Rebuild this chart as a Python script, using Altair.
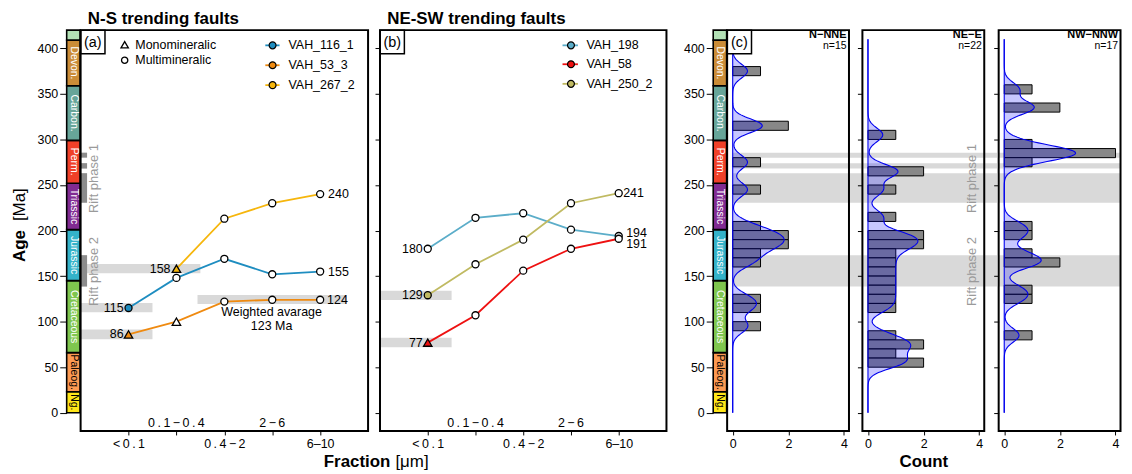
import altair as alt
import pandas as pd

# ===================== values =====================
fractions = ["<0.1", "0.1−0.4", "0.4−2", "2−6", "6–10"]

# (a) N-S trending faults
a_series = ["VAH_116_1", "VAH_53_3", "VAH_267_2"]
a_vah_116_1 = [115, 148, 169, 152, 155]
a_vah_53_3 = [86, 100, 122, 124, 124]
a_vah_267_2 = [None, 158, 213, 230, 240]
a_min_116_1 = ["multi", "multi", "multi", "multi", "multi"]
a_min_53_3 = ["mono", "mono", "multi", "multi", "multi"]
a_min_267_2 = [None, "mono", "multi", "multi", "multi"]
a_solid = [0, 0, 1]  # fraction index of the filled marker of each sample

a_lab_text = ["115", "86", "158", "155", "124", "240"]
a_lab_idx = [0, 0, 1, 4, 4, 4]
a_lab_age = [115, 86, 158, 155, 124, 240]

a_err_lo = [110.2, 80.7, 153.2, 119.3]
a_err_hi = [120.4, 91.3, 163.3, 129.2]
a_err_from = [-1, -1, -1, 1.44]
a_err_to = [0.5, 0.5, 1.5, 4.56]

# (b) NE-SW trending faults
b_series = ["VAH_198", "VAH_58", "VAH_250_2"]
b_vah_198 = [180, 214, 219, 201, 194]
b_vah_58 = [77, 107, 156, 180, 191]
b_vah_250_2 = [129, 163, 190, 230, 241]
b_min_198 = ["multi", "multi", "multi", "multi", "multi"]
b_min_58 = ["mono", "multi", "multi", "multi", "multi"]
b_min_250_2 = ["multi", "multi", "multi", "multi", "multi"]
b_solid = [None, 0, 0]

b_lab_text = ["180", "129", "77", "241", "194", "191"]
b_lab_idx = [0, 0, 0, 4, 4, 4]
b_lab_age = [180, 129, 77, 241, 194, 191]

b_err_lo = [123.7, 72.0]
b_err_hi = [133.8, 82.3]
b_err_from = [-1, -1]
b_err_to = [0.5, 0.5]

# rift phases
rift_lo = [280, 268, 230.5, 138.5]
rift_hi = [285.5, 274, 263, 173]
rift_labels = ["Rift phase 1", "Rift phase 2"]
rift_label_age = [257, 155]

# geological time scale
period_labels = ["Ng.", "Paleog.", "Cretaceous", "Jurassic", "Triassic", "Perm.", "Carbon.", "Devon.", ""]
period_start = [0, 23, 66, 145, 201, 252, 299, 359, 409]
period_end = [23, 66, 145, 201, 252, 299, 359, 409, 420]

# (c) histograms (10 Ma bins: lower edge, count)
bin_width = 10
c_names = ["N−NNE", "NE−E", "NW−NNW"]
c_n = ["n=15", "n=22", "n=17"]
c1_bin = [370, 310, 270, 240, 200, 190, 180, 170, 160, 120, 110, 90]
c1_cnt = [1, 2, 1, 1, 1, 2, 2, 1, 1, 1, 1, 1]
c2_bin = [300, 260, 240, 210, 190, 180, 170, 160, 150, 140, 130, 120, 110, 80, 70, 60, 50]
c2_cnt = [1, 2, 1, 1, 2, 2, 1, 1, 1, 1, 1, 1, 1, 1, 2, 1, 2]
c3_bin = [350, 330, 290, 280, 270, 200, 190, 170, 160, 130, 120, 80]
c3_cnt = [1, 2, 1, 4, 1, 1, 1, 1, 2, 1, 1, 1]

# ===================== styles =====================
FONT = "Liberation Sans"
H = 403
A_COLORS = ["#1E8DC0", "#EF8A10", "#F6B60C"]
B_COLORS = ["#5BADC9", "#EE1111", "#C0BA62"]
PERIOD_FILL = ["#FFE619", "#FD9A52", "#7FC64E", "#34B2C9", "#812B92", "#F04028", "#67A599", "#CB8C37", "#B3E1B6"]
PERIOD_TEXT = ["black", "black", "white", "white", "white", "white", "white", "white", "white"]
BAND = "#d9d9d9"
RIFT_DARK = "#8c8c8c"
RIFT_TEXT = "#9a9a9a"
KDE_BLUE = "#0000ee"

ys = alt.Scale(domain=[-20, 420], nice=False, zero=False)
xs_frac = alt.Scale(domain=[-1, 5], nice=False, zero=False)
xs_cnt = alt.Scale(domain=[-0.2, 4.18], nice=False, zero=False)
shape_scale = alt.Scale(domain=["mono", "multi"], range=["triangle-up", "circle"])
series_scale = alt.Scale(domain=a_series + b_series, range=A_COLORS + B_COLORS)
one = pd.DataFrame({"k": [0]})


def spaced(s):
    return s if "–" in s else "\u2009".join(s)


frac_disp = [spaced(f) for f in fractions]
label_expr = " : ".join(f"datum.value == {i} ? '{frac_disp[i]}'" for i in (0, 2, 4)) + " : ''"
x_frac_axis = alt.Axis(values=[0, 1, 2, 3, 4], labelExpr=label_expr, tickSize=4, domain=False,
                       grid=False, title=None, labelPadding=3, labelFontSize=12.5,
                       labelOverlap=False, labelFlush=False)
y_tick_axis = alt.Axis(values=list(range(0, 401, 50)), labels=False, tickSize=5, domain=False,
                       grid=False, title=None)


def vtext(txt, x, y, **kw):
    return alt.Chart(one).mark_text(**kw).encode(x=alt.value(x), y=alt.value(y), text=alt.value(txt))


def frame(w):
    return alt.Chart(one).mark_rect(fill="transparent", stroke="black", strokeWidth=2).encode(
        x=alt.value(0), x2=alt.value(w), y=alt.value(0), y2=alt.value(H))


def tag(label):
    box = alt.Chart(one).mark_rect(fill="white", stroke="black", strokeWidth=1.5).encode(
        x=alt.value(0), x2=alt.value(24.5), y=alt.value(0), y2=alt.value(23.7))
    return [box, vtext(label, 12.3, 12.5, fontSize=14.5, align="center", baseline="middle")]


def panel_title(text):
    return vtext(text, 7.3, -6.3, fontSize=17, fontWeight="bold", align="left", baseline="alphabetic")


def series_frame(names, ages, minerals, solid):
    rows = []
    for name, ag, mn, si in zip(names, ages, minerals, solid):
        for i, (a, m) in enumerate(zip(ag, mn)):
            if a is None:
                continue
            rows.append(dict(series=name, idx=i, age=a, mineral=m, solid=(i == si)))
    return pd.DataFrame(rows)


def frac_panel(df, names, colors, err, labs, lab_style, legend_pos, title, yaxis, pre, post, tag_label, width):
    def X(f):
        return alt.X(f, type="quantitative", scale=xs_frac, axis=x_frac_axis)

    def Y(f):
        return alt.Y(f, type="quantitative", scale=ys, axis=yaxis)

    layers = []
    err_df = pd.DataFrame({"lo": err[0], "hi": err[1], "x0": err[2], "x1": err[3]})
    layers.append(alt.Chart(err_df).mark_rect(fill=BAND).encode(x=X("x0"), x2="x1", y=Y("lo"), y2="hi"))
    layers += pre
    layers.append(alt.Chart(df).mark_line(strokeWidth=1.8).encode(
        x=X("idx"), y=Y("age"), stroke=alt.Stroke("series:N", scale=series_scale, legend=None),
        detail="series:N"))
    sz = "datum.mineral == 'mono' ? 72 : 50"
    layers.append(alt.Chart(df).transform_filter("!datum.solid").transform_calculate(sz=sz).mark_point(
        filled=True, fill="white", stroke="black", strokeWidth=1.3, opacity=1).encode(
        x=X("idx"), y=Y("age"), shape=alt.Shape("mineral:N", scale=shape_scale, legend=None),
        size=alt.Size("sz:Q", scale=None)))
    layers.append(alt.Chart(df).transform_filter("datum.solid").transform_calculate(sz=sz).mark_point(
        filled=True, stroke="black", strokeWidth=1.3, opacity=1).encode(
        x=X("idx"), y=Y("age"), shape=alt.Shape("mineral:N", scale=shape_scale, legend=None),
        size=alt.Size("sz:Q", scale=None), fill=alt.Fill("series:N", scale=series_scale, legend=None)))
    # value labels
    for t, i, a in zip(*labs):
        align, dx, dy = lab_style.get(t, ("left", 7, 0))
        ldf = pd.DataFrame({"idx": [i], "age": [a], "t": [t]})
        layers.append(alt.Chart(ldf).mark_text(align=align, dx=dx, dy=dy, fontSize=12.5, baseline="middle").encode(
            x=X("idx"), y=Y("age"), text="t:N"))
    # inner fraction labels (0.1-0.4 and 2-6)
    inner = pd.DataFrame({"idx": [1, 3], "t": [frac_disp[1], frac_disp[3]], "age": [-10.9, -10.9]})
    layers.append(alt.Chart(inner).mark_text(fontSize=12.5, baseline="middle").encode(
        x=X("idx"), y=Y("age"), text="t:N"))
    # sample legend
    lx_line0, lx_line1, lx_pt, lx_txt, l_ys = legend_pos
    for name, col, ly in zip(names, colors, l_ys):
        layers.append(alt.Chart(one).mark_rule(color=col, strokeWidth=1.8).encode(
            x=alt.value(lx_line0), x2=alt.value(lx_line1), y=alt.value(ly)))
        layers.append(alt.Chart(one).mark_point(filled=True, fill=col, stroke="black", strokeWidth=1.2,
                                                size=48, shape="circle", opacity=1).encode(
            x=alt.value(lx_pt), y=alt.value(ly)))
        layers.append(vtext(name, lx_txt, ly, fontSize=12.5, align="left", baseline="middle"))
    layers += post
    layers += tag(tag_label)
    layers.append(frame(width))
    layers.append(panel_title(title))
    return alt.layer(*layers).properties(width=width, height=H)


# ---------- rift decorations of panel (a) ----------
rift_df = pd.DataFrame({"lo": rift_lo, "hi": rift_hi, "x0": [-1] * len(rift_lo), "x1": [-0.865] * len(rift_lo)})
rift_a = alt.Chart(rift_df).mark_rect(fill=RIFT_DARK).encode(
    x=alt.X("x0:Q", scale=xs_frac, axis=x_frac_axis), x2="x1",
    y=alt.Y("lo:Q", scale=ys, axis=None), y2="hi")
rift_lab_df = pd.DataFrame({"t": rift_labels, "age": rift_label_age, "x": [-0.72, -0.72]})
rift_lab_a = alt.Chart(rift_lab_df).mark_text(angle=270, fontSize=13, color=RIFT_TEXT, baseline="middle").encode(
    x=alt.X("x:Q", scale=xs_frac, axis=x_frac_axis), y=alt.Y("age:Q", scale=ys, axis=None), text="t:N")

mineral_legend = [
    alt.Chart(one).mark_point(shape="triangle-up", filled=True, fill="white", stroke="black",
                              strokeWidth=1.3, size=55, opacity=1).encode(x=alt.value(44.3), y=alt.value(14.7)),
    vtext("Monomineralic", 55, 14.7, fontSize=12.5, align="left", baseline="middle"),
    alt.Chart(one).mark_point(shape="circle", filled=True, fill="white", stroke="black",
                              strokeWidth=1.3, size=40, opacity=1).encode(x=alt.value(44.3), y=alt.value(30.3)),
    vtext("Multimineralic", 55, 30.3, fontSize=12.5, align="left", baseline="middle"),
    vtext("Weighted avarage", 192, 283.7, fontSize=12.5, align="center", baseline="middle"),
    vtext("123 Ma", 192, 297, fontSize=12.5, align="center", baseline="middle"),
    vtext("Fraction", 311.5, 434.5, fontSize=17, fontWeight="bold", align="right", baseline="middle"),
    vtext("[μm]", 316.5, 434.5, fontSize=17, align="left", baseline="middle"),
]

df_a = series_frame(a_series, [a_vah_116_1, a_vah_53_3, a_vah_267_2],
                    [a_min_116_1, a_min_53_3, a_min_267_2], a_solid)
a_style = {"115": ("right", -5, 0), "86": ("right", -5, 0), "158": ("right", -6, 0),
           "155": ("left", 8, 0), "124": ("left", 7, 0), "240": ("left", 8, 0)}
panel_a = frac_panel(df_a, a_series, A_COLORS, (a_err_lo, a_err_hi, a_err_from, a_err_to),
                     (a_lab_text, a_lab_idx, a_lab_age), a_style,
                     (185.7, 200, 193, 209, [15.3, 35.3, 55.3]),
                     "N-S trending faults", None, [rift_a, rift_lab_a], mineral_legend, "(a)", 289)

df_b = series_frame(b_series, [b_vah_198, b_vah_58, b_vah_250_2],
                    [b_min_198, b_min_58, b_min_250_2], b_solid)
b_style = {"180": ("right", -5, 0), "129": ("right", -5, 0), "77": ("right", -5, 0),
           "241": ("left", 4.5, 0), "194": ("left", 7.5, -3.3), "191": ("left", 7.5, 5.8)}
panel_b = frac_panel(df_b, b_series, B_COLORS, (b_err_lo, b_err_hi, b_err_from, b_err_to),
                     (b_lab_text, b_lab_idx, b_lab_age), b_style,
                     (183.5, 199, 192, 207.5, [15.3, 34.3, 54]),
                     "NE-SW trending faults", y_tick_axis, [], [], "(b)", 288)


# ---------- time-scale columns ----------
def ts_chart(with_title):
    df = pd.DataFrame({"s": period_start, "e": period_end, "lab": period_labels,
                       "fc": PERIOD_FILL, "tc": PERIOD_TEXT})
    df["x0"] = 0
    df["x1"] = 1
    yax = alt.Axis(values=list(range(0, 401, 50)), tickSize=7, labelPadding=2, domain=False, grid=False,
                   title=None, labelFontSize=12.5)
    X0 = alt.X("x0:Q", scale=alt.Scale(domain=[0, 1], nice=False, zero=False), axis=None)
    rects = alt.Chart(df).mark_rect(stroke="black", strokeWidth=1.6).encode(
        x=X0, x2="x1", y=alt.Y("s:Q", scale=ys, axis=yax), y2="e",
        fill=alt.Fill("fc:N", scale=None))
    txt = alt.Chart(df).transform_calculate(mid="(datum.s + datum.e) / 2").mark_text(
        angle=90, fontSize=10.5, align="center", baseline="middle").encode(
        x=alt.value(6.9), y=alt.Y("mid:Q", scale=ys, axis=yax), text="lab:N",
        color=alt.Color("tc:N", scale=None))
    layers = [rects, txt]
    if with_title:
        layers.append(vtext("Age", -46.5, 217, angle=270, fontSize=17, fontWeight="bold",
                            align="center", baseline="middle"))
        layers.append(vtext("[Ma]", -46.5, 175.5, angle=270, fontSize=17,
                            align="center", baseline="middle"))
    return alt.layer(*layers).properties(width=13.5, height=H)


# ---------- histogram panels ----------
def count_axis(title):
    return alt.Axis(values=[0, 2, 4], tickSize=4, domain=False, grid=False, title=title,
                    titleFontSize=17, titleFontWeight="bold", titlePadding=3,
                    labelFontSize=12.5, labelPadding=3, format="d")


def hist_panel(bins, cnts, name, ntext, bw, band_x0, band_x1, yaxis, xtitle, extra, width=122.5):
    xax = count_axis(xtitle)

    def X(f):
        return alt.X(f, type="quantitative", scale=xs_cnt, axis=xax)

    def Y(f):
        return alt.Y(f, type="quantitative", scale=ys, axis=yaxis)

    band_df = pd.DataFrame({"lo": rift_lo, "hi": rift_hi})
    band_df["x0"] = band_x0
    band_df["x1"] = band_x1
    hist_df = pd.DataFrame({"lo": bins, "n": cnts})
    hist_df["hi"] = hist_df["lo"] + bin_width
    hist_df["z"] = 0
    ages = pd.DataFrame({"age": [lo + bin_width / 2 for lo, n in zip(bins, cnts) for _ in range(n)]})
    kde = alt.Chart(ages).transform_density(
        "age", as_=["age", "density"], bandwidth=bw, extent=[0, 410], steps=400, counts=True
    ).transform_calculate(cnt=f"datum.density * {bin_width}")
    base_df = pd.DataFrame({"x": [0], "a0": [0], "a1": [410]})
    layers = [
        alt.Chart(band_df).mark_rect(fill=BAND).encode(x=X("x0"), x2="x1", y=Y("lo"), y2="hi"),
        alt.Chart(hist_df).mark_rect(fill="#888888", stroke="black", strokeWidth=1).encode(
            x=X("z"), x2="n", y=Y("lo"), y2="hi"),
        kde.mark_area(orient="horizontal", fill="#0000ff", fillOpacity=0.22).encode(y=Y("age"), x=X("cnt")),
        kde.mark_line(color=KDE_BLUE, strokeWidth=1.1).encode(y=Y("age"), x=X("cnt"), order="age:Q"),
        alt.Chart(base_df).mark_rule(color=KDE_BLUE, strokeWidth=1.1).encode(x=X("x"), y=Y("a0"), y2="a1"),
        vtext(name, width - 2.5, 8, fontSize=11, fontWeight="bold", align="right", baseline="alphabetic"),
        vtext(ntext, width - 2.5, 19, fontSize=10.5, align="right", baseline="alphabetic"),
    ]
    layers += extra
    layers.append(frame(width))
    return alt.layer(*layers).properties(width=width, height=H)


gap_cnt = 12.8 / 28.0
c1 = hist_panel(c1_bin, c1_cnt, c_names[0], c_n[0], 7.5, 0, 4.18 + gap_cnt, None, None, tag("(c)"))
rift_lab_c = alt.Chart(pd.DataFrame({"t": rift_labels, "age": rift_label_age, "x": [3.74, 3.74]})).mark_text(
    angle=270, fontSize=13, color=RIFT_TEXT, baseline="middle").encode(
    x=alt.X("x:Q", scale=xs_cnt, axis=count_axis("Count")),
    y=alt.Y("age:Q", scale=ys, axis=y_tick_axis), text="t:N")
c2 = hist_panel(c2_bin, c2_cnt, c_names[1], c_n[1], 7.5, -0.2, 4.18 + gap_cnt, y_tick_axis, "Count", [rift_lab_c])
c3 = hist_panel(c3_bin, c3_cnt, c_names[2], c_n[2], 7.5, -0.2, 4.18, y_tick_axis, None, [])


def spacer(w):
    return alt.Chart(one).mark_point(opacity=0).encode(x=alt.value(0), y=alt.value(0)).properties(width=w, height=H)


chart = alt.hconcat(
    ts_chart(True), panel_a, spacer(12), panel_b, spacer(47), ts_chart(False), c1, spacer(12.8), c2,
    spacer(13.2), c3, spacing=0, bounds="flush"
).properties(
    padding={"left": 3, "top": 0, "right": 2, "bottom": 0}
).configure(font=FONT).configure_view(stroke="transparent").configure_axis(
    labelColor="black", tickColor="black", tickWidth=1, labelFont=FONT, titleFont=FONT, titleColor="black"
)

chart.save("out.html", embed_options={"renderer": "svg", "actions": False})
